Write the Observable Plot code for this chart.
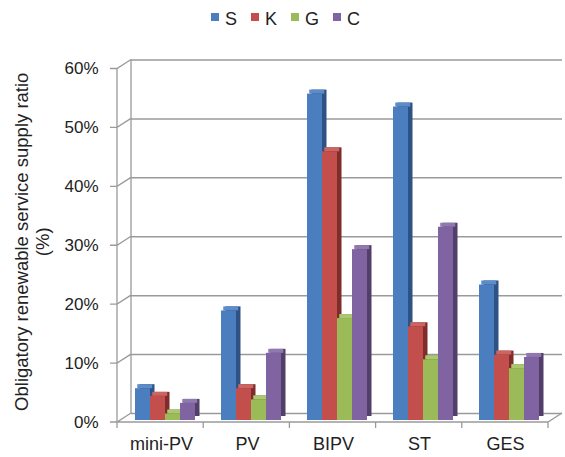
<!DOCTYPE html>
<html>
<head>
<meta charset="utf-8">
<script src="https://cdn.jsdelivr.net/npm/d3@7"></script>
<script src="https://cdn.jsdelivr.net/npm/@observablehq/plot@0.6"></script>
<style>
  body { margin: 0; background: #fff; font-family: "Liberation Sans", Arial, sans-serif; }
  #chart { position: relative; width: 565px; height: 457px; background: #fff; }
  #legend { height: 36px; box-sizing: border-box; padding-top: 10px; padding-left: 6px;
            display: flex; justify-content: center; align-items: flex-start; gap: 14px;
            font-size: 18px; line-height: 18px; color: #222; }
  #legend .item { display: flex; align-items: flex-start; }
  #legend .sw { width: 8px; height: 8px; margin-top: 3px; margin-right: 6px; }
  .layer { position: absolute; left: 0; top: 36px; }
</style>
</head>
<body>
<div id="chart">
  <div id="legend"></div>
  <div id="back" class="layer"></div>
  <div id="front" class="layer"></div>
</div>
<script>
// Technology categories and region series
const categories = ["mini-PV", "PV", "BIPV", "ST", "GES"];
const series = ["S", "K", "G", "C"];

// Obligatory renewable service supply ratio (%) per category
const valuesS = [5.4, 18.6, 55.4, 53.2, 23.0];
const valuesK = [4.1, 5.4, 45.6, 15.9, 11.1];
const valuesG = [1.1, 3.5, 17.3, 10.3, 8.8];
const valuesC = [2.9, 11.4, 29.0, 32.8, 10.7];

const yTicks = [0, 10, 20, 30, 40, 50, 60];

const frontColors = ["#4A7EBF", "#C24F4C", "#9BBB59", "#8064A2"];
const topColors   = ["#5D8CC8", "#CC6461", "#ABC871", "#9079B0"];
const sideColors  = ["#2E5283", "#7E2D2B", "#657C33", "#513E69"];

const seriesValues = [valuesS, valuesK, valuesG, valuesC];
const rows = categories.flatMap((c, i) =>
  series.map((s, j) => ({category: c, series: s, value: seriesValues[j][i]}))
);
const si = d => series.indexOf(d.series);

// shared geometry of the two stacked layers
const W = 565, H = 421;
const margins = {marginLeft: 121, marginRight: 13, marginTop: 30.5, marginBottom: 37};
const BACK = {dx: 10, dy: -7};   // depth offset of the back wall
const FRONT = {dx: -4, dy: 2};   // depth offset of the front edge
const grid = "#9a9a9a";

// legend
const legend = d3.select("#legend");
series.forEach((s, j) => {
  const it = legend.append("div").attr("class", "item");
  it.append("div").attr("class", "sw").style("background", frontColors[j]);
  it.append("span").text(s);
});

// 3D frame: floor, front axis and the slanted connectors to the back wall
function frame(index, scales, values, dims) {
  const {y} = scales;
  const L = dims.marginLeft, R = dims.width - dims.marginRight;
  const p = d3.path();
  const y0 = y(0), yTop = y(60);
  // back wall edge
  p.moveTo(L + BACK.dx, y0 + BACK.dy); p.lineTo(L + BACK.dx, yTop + BACK.dy);
  // front axis
  p.moveTo(L + FRONT.dx, y0 + FRONT.dy); p.lineTo(L + FRONT.dx, yTop + FRONT.dy);
  for (const t of yTicks) {
    p.moveTo(L + FRONT.dx - 7, y(t) + FRONT.dy);
    p.lineTo(L + FRONT.dx, y(t) + FRONT.dy);
    p.lineTo(L + BACK.dx, y(t) + BACK.dy);
  }
  // floor front edge and right side
  p.moveTo(L + FRONT.dx, y0 + FRONT.dy);
  p.lineTo(R + FRONT.dx, y0 + FRONT.dy);
  p.lineTo(R + BACK.dx, y0 + BACK.dy);
  // category separators
  const step = (R - L) / categories.length;
  for (let i = 0; i <= categories.length; i++) {
    const x = L + i * step + FRONT.dx;
    p.moveTo(x, y0 + FRONT.dy); p.lineTo(x, y0 + FRONT.dy + 6);
  }
  return d3.create("svg:path")
    .attr("d", p.toString())
    .attr("fill", "none")
    .attr("stroke", grid)
    .attr("stroke-width", 1.3)
    .node();
}

const back = Plot.plot({
  width: W, height: H, ...margins,
  style: {fontFamily: "Liberation Sans, Arial, sans-serif", color: "#222"},
  x: {type: "band", domain: categories, padding: 0, axis: null},
  y: {domain: [0, 60], axis: null},
  marks: [
    Plot.ruleY(yTicks, {y: d => d, dx: BACK.dx, dy: BACK.dy, stroke: grid, strokeWidth: 1.5}),
    frame,
    Plot.text(yTicks, {y: d => d, text: d => d + "%", frameAnchor: "left", textAnchor: "end",
                       dx: -23, dy: FRONT.dy, fontSize: 17, fill: "#222"}),
    Plot.text(categories, {x: d => d, text: d => d, frameAnchor: "bottom", lineAnchor: "middle",
                           textAnchor: "middle", dx: FRONT.dx, dy: 24, fontSize: 18, fill: "#222"}),
    Plot.text(["Obligatory renewable service supply ratio"], {text: d => d, frameAnchor: "left",
                           textAnchor: "middle", rotate: -90, dx: -99, dy: -2, fontSize: 18.5, fill: "#222"}),
    Plot.text(["(%)"], {text: d => d, frameAnchor: "left", textAnchor: "middle", rotate: -90,
                        dx: -78, dy: -2, fontSize: 18.5, fill: "#222"})
  ]
});
document.getElementById("back").append(back);

// clustered 3D columns: side face, top face, then front face
const bars = Plot.plot({
  width: W, height: H, ...margins,
  style: {background: "transparent"},
  fx: {domain: categories, padding: 0, axis: null},
  x: {domain: series, paddingInner: 0, paddingOuter: 0.745, axis: null},
  y: {domain: [0, 60], axis: null},
  marks: [
    Plot.barY(rows, {fx: "category", x: "series", y: "value", dx: 4.5, dy: -4,
                     fill: d => sideColors[si(d)]}),
    Plot.barY(rows, {fx: "category", x: "series", y1: "value", y2: "value", insetTop: -4, dx: 2.25,
                     fill: d => topColors[si(d)]}),
    Plot.barY(rows, {fx: "category", x: "series", y: "value",
                     fill: d => frontColors[si(d)]})
  ]
});
document.getElementById("front").append(bars);
</script>
</body>
</html>
